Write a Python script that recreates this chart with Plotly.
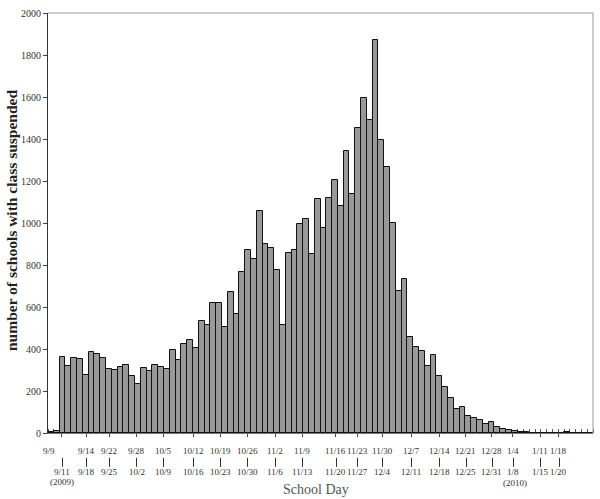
import plotly.graph_objects as go

# ---------------- data ----------------
week_starts = ["9/9", "9/14", "9/22", "9/28", "10/5", "10/12", "10/19", "10/26", "11/2", "11/9",
               "11/16", "11/23", "11/30", "12/7", "12/14", "12/21", "12/28", "1/4", "1/11", "1/18"]
week_ends = ["9/11", "9/18", "9/25", "10/2", "10/9", "10/16", "10/23", "10/30", "11/6", "11/13",
             "11/20", "11/27", "12/4", "12/11", "12/18", "12/25", "12/31", "1/8", "1/15", "1/20"]

school_days = [
    "9/9", "9/10", "9/11",
    "9/14", "9/15", "9/16", "9/17", "9/18",
    "9/22", "9/23", "9/24", "9/25",
    "9/28", "9/29", "9/30", "10/1", "10/2",
    "10/5", "10/6", "10/7", "10/8", "10/9",
    "10/12", "10/13", "10/14", "10/15", "10/16",
    "10/19", "10/20", "10/21", "10/22", "10/23",
    "10/26", "10/27", "10/28", "10/29", "10/30",
    "11/2", "11/3", "11/4", "11/5", "11/6",
    "11/9", "11/10", "11/11", "11/12", "11/13",
    "11/16", "11/17", "11/18", "11/19", "11/20",
    "11/23", "11/24", "11/25", "11/26", "11/27",
    "11/30", "12/1", "12/2", "12/3", "12/4",
    "12/7", "12/8", "12/9", "12/10", "12/11",
    "12/14", "12/15", "12/16", "12/17", "12/18",
    "12/21", "12/22", "12/23", "12/24", "12/25",
    "12/28", "12/29", "12/30", "12/31",
    "1/4", "1/5", "1/6", "1/7", "1/8",
    "1/11", "1/12", "1/13", "1/14", "1/15",
    "1/18", "1/19", "1/20",
]

schools_suspended = [
    5, 8, 362,
    318, 358, 352, 278, 387,
    378, 355, 305, 300,
    316, 322, 273, 231, 310,
    294, 322, 316, 303, 397,
    348, 422, 444, 406, 534,
    512, 618, 618, 507, 672,
    567, 765, 871, 828, 1057,
    899, 880, 776, 515, 856,
    871, 995, 1018, 852, 1112,
    976, 1120, 1205, 1079, 1343,
    1138, 1452, 1597, 1492, 1871,
    1395, 1269, 999, 675, 735,
    457, 411, 392, 318, 370,
    270, 221, 169, 112, 122,
    79, 71, 60, 41, 51,
    30, 17, 12, 8,
    4, 4, 2, 0, 0,
    0, 0, 0, 4, 0,
    0, 0, 0,
]

y_ticks = [0, 200, 400, 600, 800, 1000, 1200, 1400, 1600, 1800, 2000]

# ---------------- layout helpers (pixel placement of hand-set labels) ----------------
W, H = 600, 499
ML, MR, MT, MB = 48, 7, 11, 66
PW = W - ML - MR
PH = H - MT - MB
N = len(school_days)

def px_to_x(px):
    return -0.5 + (px - ML) / PW * N

def py_to_paper(py):
    return (H - MB - py) / PH

label_px = [61.5, 86, 109, 136.5, 163.3, 193.2, 220, 247, 275, 302,
            335.5, 357, 382.3, 411, 439.2, 465.8, 491.5, 512.7, 540.2, 558.6]

FONT = "Liberation Serif"
LBL = dict(family=FONT, size=9, color="#333333")

fig = go.Figure()
fig.add_trace(go.Bar(
    x=list(range(N)),
    y=schools_suspended,
    customdata=school_days,
    hovertemplate="%{customdata}: %{y}<extra></extra>",
    marker=dict(color="#999999", line=dict(color="#111111", width=1)),
    width=1.0,
))

annotations = []
shapes = [
    dict(type="line", xref="paper", yref="paper", x0=0, x1=1, y0=1, y1=1,
         line=dict(color="#999999", width=1)),
    dict(type="line", xref="paper", yref="paper", x0=1, x1=1, y0=0, y1=1,
         line=dict(color="#999999", width=1)),
]
for i, (top, bot) in enumerate(zip(week_starts, week_ends)):
    px = label_px[i]
    top_px = 49.3 if i == 0 else px
    annotations.append(dict(x=px_to_x(top_px), y=py_to_paper(450.7), text=top, font=LBL))
    annotations.append(dict(x=px_to_x(px), y=py_to_paper(472.3), text=bot, font=LBL))
    shapes.append(dict(type="line", xref="x", yref="paper",
                       x0=px_to_x(round(px) + 0.5), x1=px_to_x(round(px) + 0.5),
                       y0=py_to_paper(458), y1=py_to_paper(467),
                       line=dict(color="#333333", width=1)))
annotations.append(dict(x=px_to_x(62), y=py_to_paper(482.7), text="(2009)", font=LBL))
annotations.append(dict(x=px_to_x(515), y=py_to_paper(483.5), text="(2010)", font=LBL))
annotations.append(dict(x=px_to_x(316), y=py_to_paper(489.5), text="School Day",
                        font=dict(family=FONT, size=14, color="#555555")))
for a in annotations:
    a.update(xref="x", yref="paper", showarrow=False, xanchor="center", yanchor="middle")

annotations.append(dict(x=(11 - ML) / PW, y=py_to_paper(220), xref="paper", yref="paper",
                        text="<b>number of schools with class suspended</b>", textangle=-90,
                        showarrow=False, xanchor="center", yanchor="middle",
                        font=dict(family=FONT, size=15.5, color="#222222")))

fig.update_layout(
    width=W, height=H,
    margin=dict(l=ML, r=MR, t=MT, b=MB, pad=0),
    paper_bgcolor="white", plot_bgcolor="white",
    showlegend=False,
    bargap=0,
    annotations=annotations,
    shapes=shapes,
    xaxis=dict(
        range=[-0.5, N - 0.5], showgrid=False, zeroline=False,
        showline=True, linecolor="#777777", linewidth=1,
        tickmode="array", tickvals=[px_to_x(p) for p in label_px],
        ticks="outside", ticklen=3, tickcolor="#444444", showticklabels=False,
        minor=dict(ticks="inside", tickmode="linear", tick0=-0.5, dtick=1,
                   ticklen=4, tickcolor="#555555", showgrid=False),
        layer="below traces", fixedrange=True,
    ),
    yaxis=dict(
        range=[0, 2000], showgrid=False, zeroline=False,
        showline=True, linecolor="#333333", linewidth=1,
        tickmode="array", tickvals=y_ticks,
        ticks="outside", ticklen=4, tickcolor="#444444",
        tickfont=dict(family=FONT, size=10, color="#333333"),
        fixedrange=True,
    ),
)

fig.write_html("out.html", config={"displayModeBar": False},
               post_script="document.body.style.margin='0';")
